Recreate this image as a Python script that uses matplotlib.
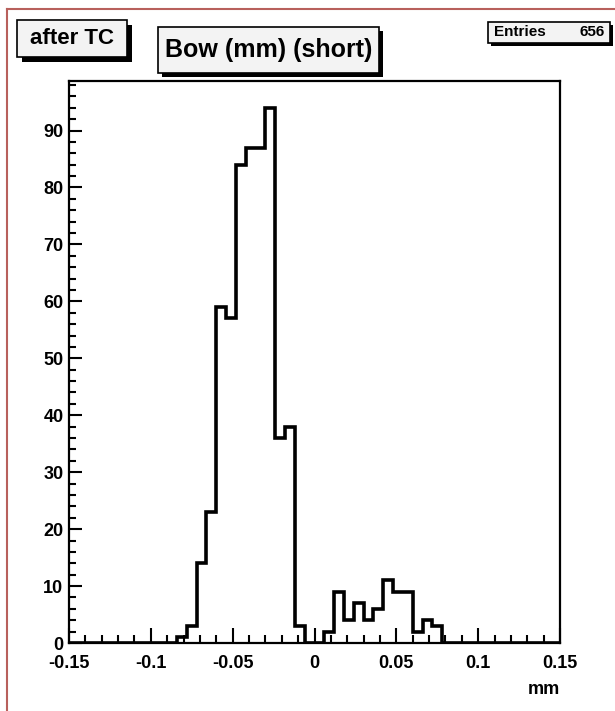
import numpy as np
import matplotlib.pyplot as plt
from matplotlib.patches import Rectangle
from matplotlib.lines import Line2D
from matplotlib.ticker import MultipleLocator

plt.rcParams['font.family'] = ['Liberation Sans', 'DejaVu Sans']
plt.rcParams['font.weight'] = 'bold'

# histogram: 50 bins from -0.15 to 0.15 mm
bin_lo, bin_hi, n_bins = -0.15, 0.15, 50
counts = [0, 0, 0, 0, 0, 0, 0, 0, 0, 0,
          0, 1, 3, 14, 23, 59, 57, 84, 87, 87,
          94, 36, 38, 3, 0, 0, 2, 9, 4, 7,
          4, 6, 11, 9, 9, 2, 4, 3, 0, 0,
          0, 0, 0, 0, 0, 0, 0, 0, 0, 0]
x_ticks = [-0.15, -0.1, -0.05, 0, 0.05, 0.1, 0.15]
x_tick_labels = ['-0.15', '-0.1', '-0.05', '0', '0.05', '0.1', '0.15']
y_ticks = [0, 10, 20, 30, 40, 50, 60, 70, 80, 90]
n_entries = 656

W, H = 615, 711
fig = plt.figure(figsize=(W / 100, H / 100), dpi=100)


def fx(px):
    return px / W


def fy(py):
    return 1 - py / H


# pad border (left and top edges only)
border = '#b8605c'
fig.add_artist(Line2D([fx(7), fx(7)], [fy(9), 0], color=border, lw=1.5))
fig.add_artist(Line2D([fx(7), 1], [fy(9), fy(9)], color=border, lw=1.5))

ax = fig.add_axes([fx(69), fy(643), fx(560) - fx(69), fy(81) - fy(643)])
edges = np.linspace(bin_lo, bin_hi, n_bins + 1)
ax.stairs(counts, edges, color='black', linewidth=2.6)
ax.set_xlim(bin_lo, bin_hi)
ax.set_ylim(0, max(counts) * 1.05)

for s in ax.spines.values():
    s.set_linewidth(1.6)

ax.set_xticks(x_ticks)
ax.set_xticklabels(x_tick_labels)
ax.set_yticks(y_ticks)
ax.xaxis.set_minor_locator(MultipleLocator(0.01))
ax.yaxis.set_minor_locator(MultipleLocator(2))
ax.tick_params(axis='x', which='major', direction='in', length=11, width=1.5,
               pad=9, labelsize=13)
ax.tick_params(axis='x', which='minor', direction='in', length=5.5, width=1.5)
ax.tick_params(axis='y', which='major', direction='in', length=9.5, width=1.5,
               pad=4, labelsize=13)
ax.tick_params(axis='y', which='minor', direction='in', length=5, width=1.5)
ax.set_xlabel('mm', loc='right', fontsize=13, fontweight='bold', labelpad=6)


def pave(x0, y0, x1, y1, off):
    # shadowed box, pixel coords measured from the top-left corner
    fig.add_artist(Rectangle((fx(x0 + off), fy(y1 + off)), fx(x1 - x0), fy(y0) - fy(y1),
                             facecolor='black', edgecolor='black', lw=0))
    fig.add_artist(Rectangle((fx(x0), fy(y1)), fx(x1 - x0), fy(y0) - fy(y1),
                             facecolor='#f3f3f3', edgecolor='black', lw=1.2))


pave(17, 20, 127, 57, 5)
fig.text(fx(72), fy(38.5), 'after TC', ha='center', va='center', fontsize=16)

pave(158, 27, 379, 73, 4)
fig.text(fx(268.5), fy(50), 'Bow (mm) (short)', ha='center', va='center', fontsize=18)

pave(488, 22, 610, 43, 3)
fig.text(fx(494), fy(32.5), 'Entries', ha='left', va='center', fontsize=11)
fig.text(fx(605), fy(32.5), str(n_entries), ha='right', va='center', fontsize=11)

fig.savefig('out.png', dpi=100)
